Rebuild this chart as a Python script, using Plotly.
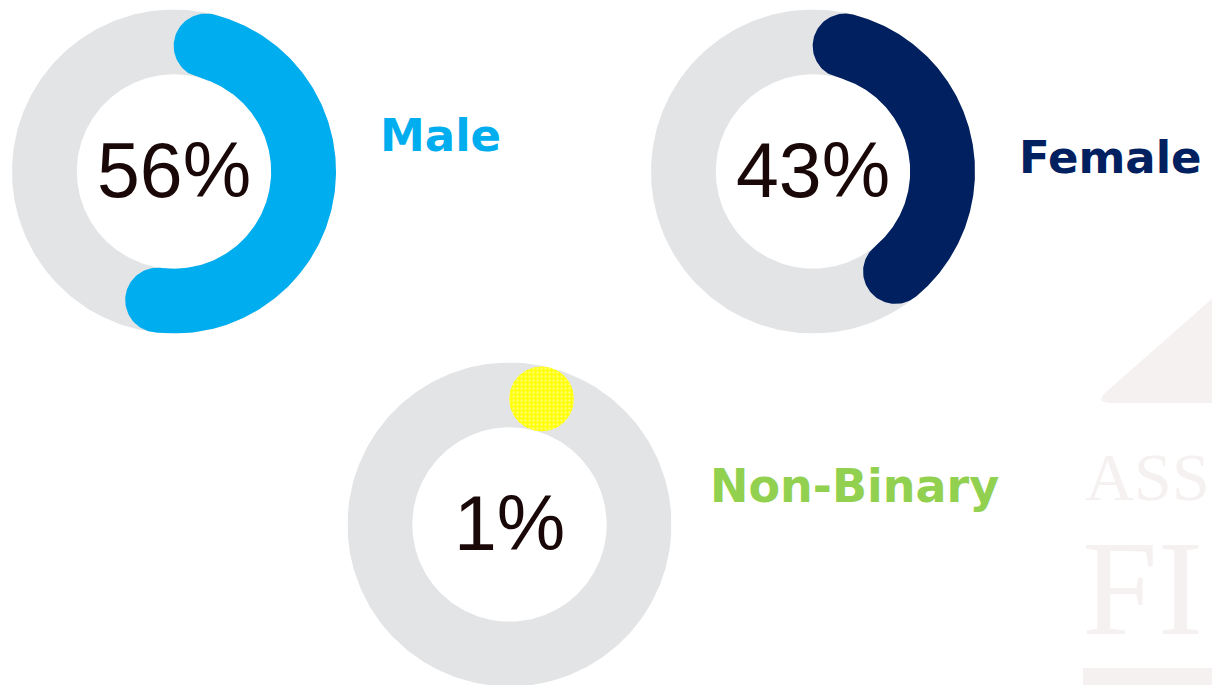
import numpy as np
import plotly.graph_objects as go

# ---- data ----
categories = ["Male", "Female", "Non-Binary"]
percent_values = [56, 43, 1]
percent_labels = ["56%", "43%", "1%"]
arc_colors = ["#00AEEF", "#002060", "#FFFF00"]
label_colors = ["#00AEEF", "#002060", "#92D050"]
track_color = "#E3E4E6"

W, H = 1212, 685
# ring placement in pixels (centre x, centre y, outer radius)
centres = [(174.0, 171.5), (813.0, 171.5), (509.5, 524.5)]
R_PX = 162.0
label_pos = [(378, 135.5, 45), (1017, 157.5, 45), (708, 486, 46)]  # left x, middle y, font size

OUTER, INNER = 1.0, 0.6
MID = (OUTER + INNER) / 2
CAP = (OUTER - INNER) / 2

fig = go.Figure()


def ring_path():
    t = np.linspace(0, 2 * np.pi, 361)
    xo, yo = OUTER * np.sin(t), OUTER * np.cos(t)
    xi, yi = INNER * np.sin(t[::-1]), INNER * np.cos(t[::-1])
    return np.concatenate([xo, xi, [xo[0]]]), np.concatenate([yo, yi, [yo[0]]])


def arc_path(pct):
    cap_ang = CAP / MID
    a0 = cap_ang
    a1 = 2 * np.pi * pct / 100.0 - cap_ang
    if a1 <= a0:
        phi = np.linspace(0, 2 * np.pi, 120)
        cx, cy = MID * np.sin(a0), MID * np.cos(a0)
        return cx + CAP * np.cos(phi), cy + CAP * np.sin(phi)
    xs, ys = [], []
    th = np.linspace(a0, a1, 240)
    xs += list(OUTER * np.sin(th)); ys += list(OUTER * np.cos(th))
    u1 = np.array([np.sin(a1), np.cos(a1)]); t1 = np.array([np.cos(a1), -np.sin(a1)])
    c1 = MID * u1
    for p in np.linspace(0, np.pi, 60):
        pt = c1 + CAP * (np.cos(p) * u1 + np.sin(p) * t1)
        xs.append(pt[0]); ys.append(pt[1])
    th = np.linspace(a1, a0, 240)
    xs += list(INNER * np.sin(th)); ys += list(INNER * np.cos(th))
    u0 = np.array([np.sin(a0), np.cos(a0)]); t0 = np.array([np.cos(a0), -np.sin(a0)])
    c0 = MID * u0
    for p in np.linspace(np.pi, 0, 60):
        pt = c0 + CAP * (np.cos(p) * u0 - np.sin(p) * t0)
        xs.append(pt[0]); ys.append(pt[1])
    xs.append(xs[0]); ys.append(ys[0])
    return np.array(xs), np.array(ys)


layout_axes = {}
for i, (cat, pct, lab, col) in enumerate(zip(categories, percent_values, percent_labels, arc_colors)):
    n = i + 1
    xa, ya = ("x", "y") if n == 1 else (f"x{n}", f"y{n}")
    cx, cy = centres[i]
    left, right = cx - R_PX, cx + R_PX
    top, bottom = cy - R_PX, cy + R_PX
    # clip to figure and adjust ranges to keep 1 unit = R_PX pixels
    l_c, r_c = max(left, 0), min(right, W)
    t_c, b_c = max(top, 0), min(bottom, H)
    xr = [(l_c - cx) / R_PX, (r_c - cx) / R_PX]
    yr = [(cy - b_c) / R_PX, (cy - t_c) / R_PX]
    ax_common = dict(visible=False, showgrid=False, zeroline=False, fixedrange=True)
    layout_axes["xaxis" if n == 1 else f"xaxis{n}"] = dict(
        domain=[l_c / W, r_c / W], range=xr, anchor=ya, **ax_common)
    layout_axes["yaxis" if n == 1 else f"yaxis{n}"] = dict(
        domain=[1 - b_c / H, 1 - t_c / H], range=yr, anchor=xa, **ax_common)

    rx, ry = ring_path()
    fig.add_trace(go.Scatter(x=rx, y=ry, mode="lines", fill="toself", fillcolor=track_color,
                             line=dict(width=0), hoverinfo="skip", showlegend=False,
                             xaxis=xa, yaxis=ya))
    ax_, ay_ = arc_path(pct)
    kw = {}
    if cat == "Non-Binary":
        kw["fillpattern"] = dict(shape=".", bgcolor=col, fgcolor="#FFFFFF", size=4,
                                 solidity=0.3, fillmode="overlay")
    fig.add_trace(go.Scatter(x=ax_, y=ay_, mode="lines", fill="toself", fillcolor=col,
                             line=dict(width=0), hoverinfo="skip", showlegend=False,
                             name=cat, xaxis=xa, yaxis=ya, **kw))
    fig.add_annotation(x=0, y=0.012, xref=xa, yref=ya, text=lab, showarrow=False,
                       xanchor="center", yanchor="middle",
                       font=dict(family="Liberation Sans, Arial", size=77, color="#1A0808"))
    lx, ly, fs = label_pos[i]
    fig.add_annotation(x=lx / W, y=1 - ly / H, xref="paper", yref="paper", text=cat,
                       showarrow=False, xanchor="left", yanchor="middle",
                       font=dict(family="DejaVu Sans, sans-serif", size=fs,
                                 color=label_colors[i], weight=700))

# faint watermark (decoration)
wm = "#F5F1F0"
fig.add_shape(type="path", xref="paper", yref="paper", layer="below",
              path=(f"M {1112/W},{1-403/H} Q {1094/W},{1-403/H} {1106/W},{1-392/H} "
                    f"L {1330/W},{1-195/H} L {1330/W},{1-403/H} Z"),
              fillcolor=wm, line=dict(width=0))
fig.add_shape(type="rect", xref="paper", yref="paper", layer="below",
              x0=1083 / W, x1=1.0, y0=0, y1=1 - 668 / H, fillcolor=wm, line=dict(width=0))
fig.add_annotation(x=1083 / W, y=1 - 477 / H, xref="paper", yref="paper", text="ASS",
                   showarrow=False, xanchor="left", yanchor="middle",
                   font=dict(family="Liberation Serif, serif", size=68, color=wm))
fig.add_annotation(x=1080 / W, y=1 - 588 / H, xref="paper", yref="paper", text="FI",
                   showarrow=False, xanchor="left", yanchor="middle",
                   font=dict(family="Liberation Serif, serif", size=136, color=wm))

fig.update_layout(width=W, height=H, margin=dict(l=0, r=0, t=0, b=0),
                  paper_bgcolor="white", plot_bgcolor="rgba(0,0,0,0)",
                  showlegend=False, **layout_axes)

fig.write_html("out.html", config={"displayModeBar": False},
               post_script="document.body.style.margin='0';")
